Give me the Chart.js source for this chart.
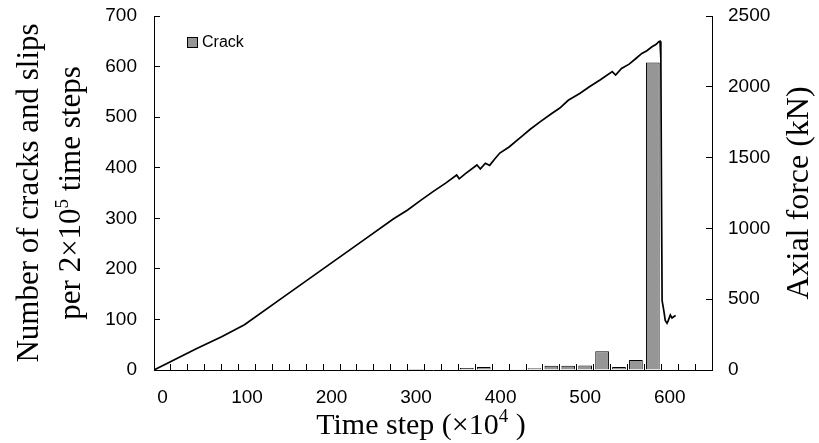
<!DOCTYPE html>
<html>
<head>
<meta charset="utf-8">
<script src="https://cdn.jsdelivr.net/npm/chart.js@4.4.0/dist/chart.umd.min.js"></script>
<style>
  body { margin: 0; background: #fff; }
  #wrap { width: 819px; height: 443px; }
</style>
</head>
<body>
<div id="wrap"><canvas id="chart" width="819" height="443"></canvas></div>
<script>
// Bins of 2x10^5 time steps (labels in x10^4)
const timeBins = ['0', '20', '40', '60', '80', '100', '120', '140', '160', '180', '200',
    '220', '240', '260', '280', '300', '320', '340', '360', '380', '400', '420', '440',
    '460', '480', '500', '520', '540', '560', '580', '600', '620', '640'];

// Number of cracks per bin
const crackCounts = [null, null, null, null, null, null, null, null, null, null, null,
    1.5, 1.5, null, null, 2, null, 1, 4, 6, 1, 1.5, 3.5,
    8.5, 8.5, 9, 37, 6, 20, 608, null, null, null];

// Axial force curve (time step x10^4, kN)
const forceTime = [0, 20, 50, 80, 107, 150, 200, 250, 283, 300, 315, 330, 345, 358, 361, 368,
    382, 386, 392, 397, 403, 409, 420, 435, 445, 457, 470, 480, 490, 504, 515, 528, 542, 546,
    553, 562, 570, 577, 583, 589, 594, 597, 598.5, 599.5, 600.3, 601, 603, 604.7, 606.8, 608,
    610.7, 612.7, 614.6, 617];
const forceKN = [0, 60, 150, 235, 320, 502, 714, 926, 1066, 1130, 1196, 1260, 1320, 1377, 1350, 1385,
    1448, 1420, 1460, 1445, 1490, 1532, 1575, 1650, 1700, 1754, 1810, 1850, 1905, 1954, 2000, 2050, 2107, 2083,
    2130, 2160, 2200, 2236, 2255, 2283, 2300, 2318, 2322, 2200, 1200, 490, 420, 350, 330, 345,
    388, 367, 376, 385];

const leftTicks = { min: 0, max: 700, step: 100 };
const rightTicks = { min: 0, max: 2500, step: 500 };

const SANS = '"Liberation Sans", Arial, sans-serif';
const SERIF = '"Liberation Serif", "Times New Roman", serif';

// texte avec exposant, centré sur x
function drawRich(ctx, parts, x, y, size) {
    const supSize = Math.round(size * 0.62);
    let total = 0;
    parts.forEach(p => {
        ctx.font = (p.sup ? supSize : size) + 'px ' + SERIF;
        p.w = ctx.measureText(p.t).width;
        total += p.w;
    });
    let cx = x - total / 2;
    parts.forEach(p => {
        ctx.font = (p.sup ? supSize : size) + 'px ' + SERIF;
        ctx.fillText(p.t, cx, p.sup ? y - size * 0.4 : y);
        cx += p.w;
    });
}

const titlesPlugin = {
    id: 'titles',
    afterDraw(chart) {
        const ctx = chart.ctx;
        const a = chart.chartArea;
        const midY = (a.top + a.bottom) / 2;
        ctx.save();
        ctx.fillStyle = '#000';
        ctx.textBaseline = 'alphabetic';
        ctx.textAlign = 'left';

        // titre axe gauche (2 lignes)
        ctx.save();
        ctx.translate(a.left, midY);
        ctx.rotate(-Math.PI / 2);
        drawRich(ctx, [{ t: 'Number of cracks and slips' }], 0, -116, 31);
        drawRich(ctx, [{ t: 'per 2×10' }, { t: '5', sup: true }, { t: ' time steps' }], 0, -74, 31);
        ctx.restore();

        // titre axe droit
        ctx.save();
        ctx.translate(a.right + 96, midY);
        ctx.rotate(-Math.PI / 2);
        drawRich(ctx, [{ t: 'Axial force (kN)' }], 0, 0, 32);
        ctx.restore();

        // titre axe x
        drawRich(ctx, [{ t: 'Time step (×10' }, { t: '4', sup: true }, { t: ' )' }],
            (a.left + a.right) / 2 - 12, a.bottom + 64, 30);

        // légende
        const ds = chart.data.datasets[1];
        const lx = a.left + 33, ly = a.top + 21;
        ctx.fillStyle = ds.backgroundColor;
        ctx.fillRect(lx, ly, 11, 11);
        ctx.strokeStyle = '#000';
        ctx.lineWidth = 1;
        ctx.strokeRect(lx + 0.5, ly + 0.5, 10, 10);
        ctx.fillStyle = '#000';
        ctx.font = '16px ' + SANS;
        ctx.textBaseline = 'middle';
        ctx.fillText(ds.label, lx + 15, ly + 6);
        ctx.restore();
    }
};

// la marge des graduations ne doit pas pousser la zone du graphique
function fixY(width) {
    return s => {
        s.width = width;
        s.paddingTop = 0;
        s.paddingBottom = 0;
    };
}

const ctx = document.getElementById('chart').getContext('2d');
new Chart(ctx, {
    type: 'bar',
    data: {
        labels: timeBins,
        datasets: [
            {
                type: 'line',
                label: 'Axial force',
                data: forceTime.map((t, i) => ({ x: t, y: forceKN[i] })),
                xAxisID: 'x2',
                yAxisID: 'y1',
                borderColor: '#000',
                borderWidth: 1.7,
                pointRadius: 0,
                tension: 0,
                fill: false,
                order: 1
            },
            {
                label: 'Crack',
                data: crackCounts,
                xAxisID: 'x',
                yAxisID: 'y',
                backgroundColor: '#969696',
                borderColor: '#000',
                borderWidth: 1,
                grouped: false,
                barPercentage: 0.9,
                categoryPercentage: 0.9,
                order: 2
            }
        ]
    },
    options: {
        responsive: false,
        animation: false,
        layout: { padding: { top: 16, left: 0, right: 0, bottom: 0 } },
        plugins: {
            legend: { display: false },
            tooltip: { enabled: false }
        },
        scales: {
            x: {
                type: 'category',
                offset: true,
                grid: { offset: true, drawOnChartArea: false, drawTicks: true, tickLength: -6, color: '#000' },
                border: { display: true, color: '#000', width: 1 },
                ticks: {
                    autoSkip: false,
                    maxRotation: 0,
                    color: '#000',
                    padding: 22,
                    font: { family: SANS, size: 19 },
                    callback: function (v) {
                        const lab = this.getLabelForValue(v);
                        return Number(lab) % 100 === 0 ? lab : '';
                    }
                },
                afterFit: s => { s.height = 73; s.paddingLeft = 0; s.paddingRight = 0; }
            },
            x2: {
                type: 'linear',
                display: false,
                offset: false,
                grid: { offset: false },
                min: 0,
                max: 660
            },
            y: {
                position: 'left',
                min: leftTicks.min,
                max: leftTicks.max,
                grid: { drawOnChartArea: false, drawTicks: true, tickLength: -6, color: '#000' },
                border: { display: true, color: '#000', width: 1 },
                ticks: { stepSize: leftTicks.step, color: '#000', padding: 23, font: { family: SANS, size: 19 },
                    callback: v => String(v) },
                afterFit: fixY(154)
            },
            y1: {
                position: 'right',
                min: rightTicks.min,
                max: rightTicks.max,
                grid: { drawOnChartArea: false, drawTicks: true, tickLength: -6, color: '#000' },
                border: { display: true, color: '#000', width: 1 },
                ticks: { stepSize: rightTicks.step, color: '#000', padding: 22, font: { family: SANS, size: 19 },
                    callback: v => String(v) },
                afterFit: fixY(107)
            }
        }
    },
    plugins: [titlesPlugin]
});
</script>
</body>
</html>
